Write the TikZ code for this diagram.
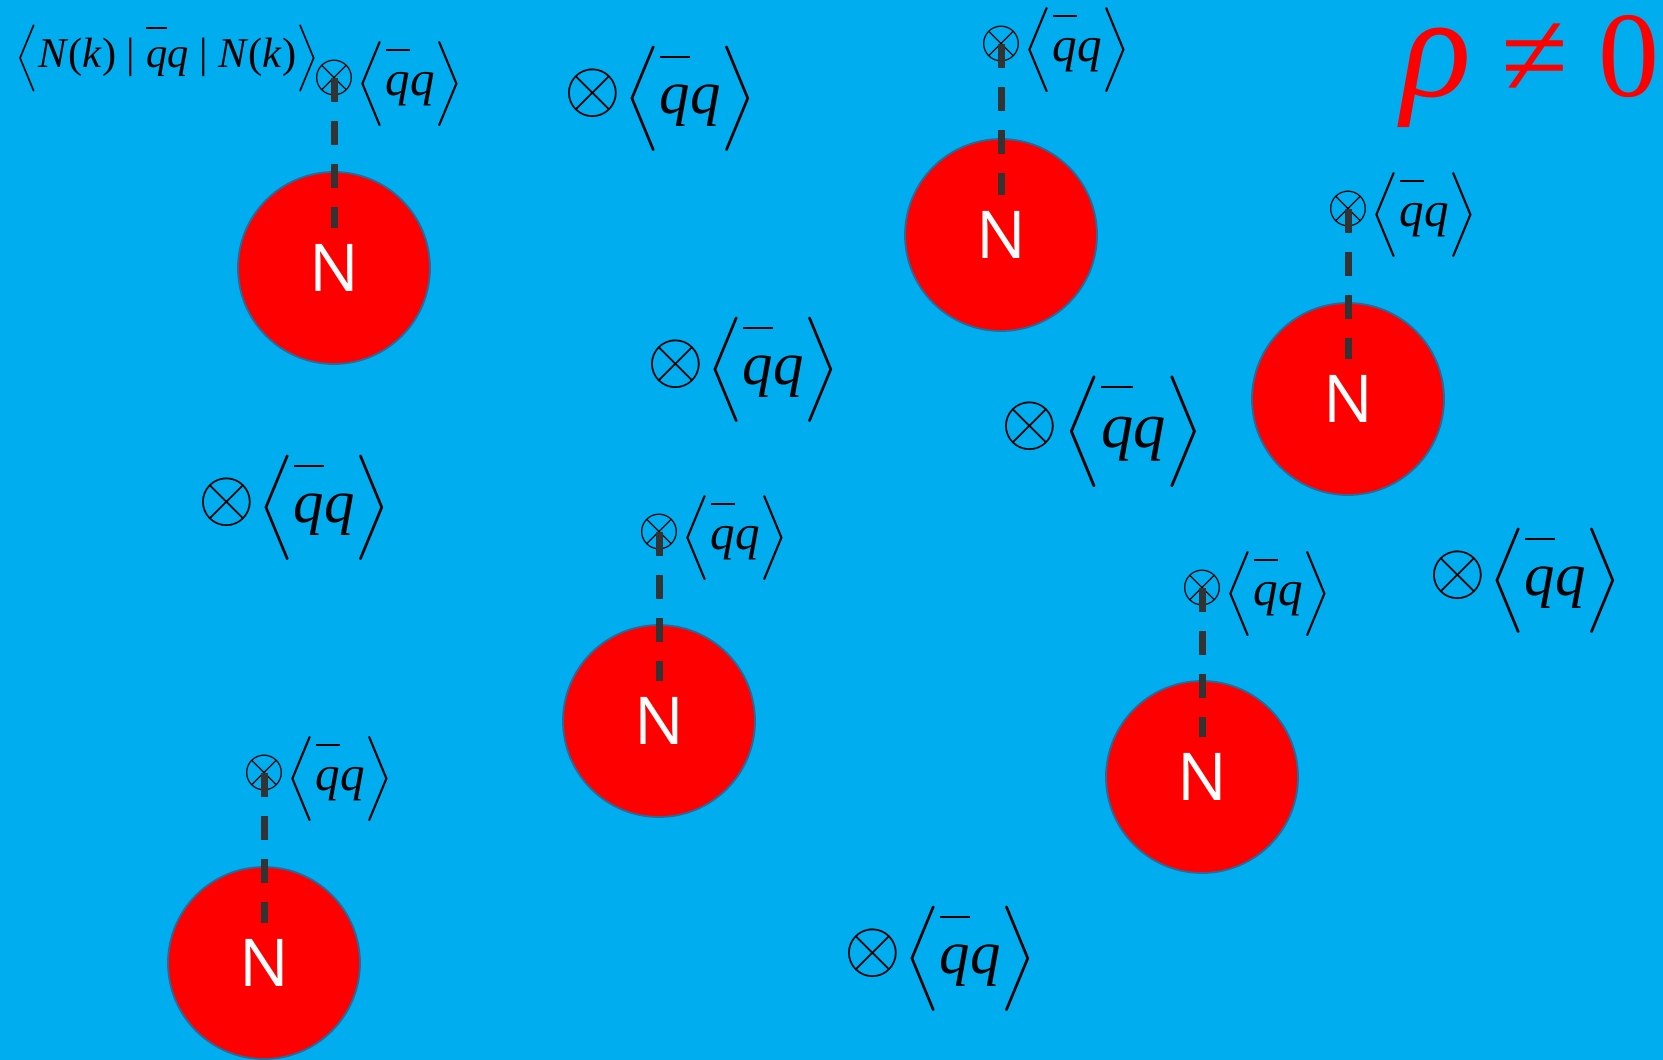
\documentclass[tikz,border=0pt]{standalone}
\usepackage{fontspec}
\setmainfont{Liberation Serif}
\newfontfamily\nfont{Open Sans}
\definecolor{bg}{HTML}{00ADEF}
\definecolor{ring}{HTML}{2A6A9A}
\definecolor{linkc}{HTML}{333333}
\newcommand\qbar{\overline{\mbox{\itshape q\rule{0pt}{0.8em}}}}
\newcommand\qqex{$\Big\langle\qbar\mbox{\itshape q}\Big\rangle$}
\begin{document}
\begin{tikzpicture}[x=1pt,y=-1pt,
  nuc/.style={circle,fill=red,draw=ring,line width=1.8pt,minimum size=192pt,inner sep=0pt,text=white,font=\nfont\fontsize{66}{70}\selectfont},
  otbig/.style={inner sep=0pt,scale=7.3,font=\fontsize{10}{12}\selectfont},
  otsmall/.style={inner sep=0pt,scale=5.4,font=\fontsize{10}{12}\selectfont},
  exbig/.style={anchor=west,inner sep=0pt,scale=5.85,font=\fontsize{10.4}{12}\selectfont},
  exsmall/.style={anchor=west,inner sep=0pt,scale=4.72,font=\fontsize{10.4}{12}\selectfont},
  link/.style={draw=linkc,line width=7pt,dash pattern=on 24pt off 19pt}]
\fill[bg] (0,0) rectangle (1663,1060);
\useasboundingbox (0,0) rectangle (1663,1060);
% nucleons
\node[nuc] (n1) at (334,268) {N};
\node[nuc] (n2) at (1001,235) {N};
\node[nuc] (n3) at (1348,399) {N};
\node[nuc] (n4) at (659,721) {N};
\node[nuc] (n5) at (1202,777) {N};
\node[nuc] (n6) at (264,963) {N};
% attached condensates
\node[otsmall] (o1) at (334,78) {$\otimes$};
\node[otsmall] (o2) at (1001,44) {$\otimes$};
\node[otsmall] (o3) at (1348,209) {$\otimes$};
\node[otsmall] (o4) at (659,532) {$\otimes$};
\node[otsmall] (o5) at (1202,588) {$\otimes$};
\node[otsmall] (o6) at (264,773) {$\otimes$};
\foreach \i in {1,...,6}{
  \node[exsmall] (e\i) at ([xshift=22pt,yshift=-6pt]o\i.center) {\qqex};
}
% free condensates
\node[otbig] (f1) at (593,93) {$\otimes$};
\node[otbig] (f2) at (676,364) {$\otimes$};
\node[otbig] (f3) at (227,502) {$\otimes$};
\node[otbig] (f4) at (1030,426) {$\otimes$};
\node[otbig] (f5) at (1458,575) {$\otimes$};
\node[otbig] (f6) at (873,953) {$\otimes$};
\foreach \i in {1,2,3,5,6}{
  \node[exbig] (g\i) at ([xshift=30pt,yshift=-6pt]f\i.center) {\qqex};
}
\node[exbig,scale=1.06] (g4) at ([xshift=32pt,yshift=-6pt]f4.center) {\qqex};
% matrix element label
\node[anchor=west,inner sep=0pt,scale=3.72,font=\fontsize{10}{12}\selectfont] (lbl) at (15,58)
  {$\Big\langle$\hbox{\fontsize{11.4}{13}\selectfont\textit{N}(\textit{k}) | $\qbar$\textit{q} | \textit{N}(\textit{k})}$\Big\rangle$};
% density
\node[anchor=base east,inner sep=0pt,text=red,font=\fontsize{122}{124}\selectfont] (rho) at (1660,96) {{\fontsize{146}{146}\selectfont\textit{ρ}}\hspace{30pt}≠ 0};
% links
\foreach \i in {1,...,6}{
  \draw[link] (o\i.center) -- ([yshift=40pt]n\i.center);
}
\end{tikzpicture}
\end{document}
